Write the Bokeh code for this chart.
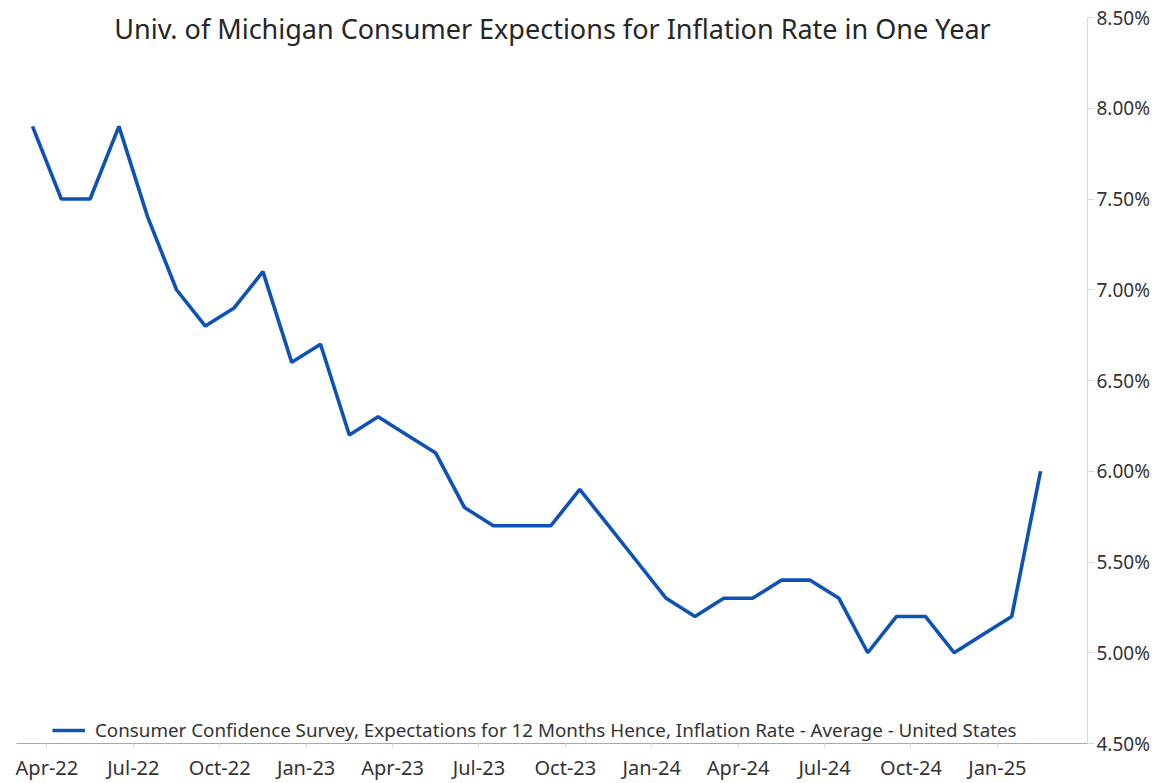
from bokeh.plotting import figure
from bokeh.models import (Range1d, FixedTicker, Label, Legend, LegendItem,
                          PrintfTickFormatter, ColumnDataSource)
from bokeh.embed import file_html
from bokeh.resources import INLINE

# ---- data ----
months = ["Apr-22", "May-22", "Jun-22", "Jul-22", "Aug-22", "Sep-22", "Oct-22", "Nov-22", "Dec-22",
          "Jan-23", "Feb-23", "Mar-23", "Apr-23", "May-23", "Jun-23", "Jul-23", "Aug-23", "Sep-23",
          "Oct-23", "Nov-23", "Dec-23", "Jan-24", "Feb-24", "Mar-24", "Apr-24", "May-24", "Jun-24",
          "Jul-24", "Aug-24", "Sep-24", "Oct-24", "Nov-24", "Dec-24", "Jan-25", "Feb-25", "Mar-25"]
expectations = [7.9, 7.5, 7.5, 7.9, 7.4, 7.0, 6.8, 6.9, 7.1,
                6.6, 6.7, 6.2, 6.3, 6.2, 6.1, 5.8, 5.7, 5.7,
                5.7, 5.9, 5.7, 5.5, 5.3, 5.2, 5.3, 5.3, 5.4,
                5.4, 5.3, 5.0, 5.2, 5.2, 5.0, 5.1, 5.2, 6.0]
tick_labels = months[::3]
y_ticks = [4.5, 5.0, 5.5, 6.0, 6.5, 7.0, 7.5, 8.0, 8.5]
series_name = "Consumer Confidence Survey, Expectations for 12 Months Hence, Inflation Rate - Average - United States"
title_text = "Univ. of Michigan Consumer Expections for Inflation Rate in One Year"

FONT = "Noto Sans"
TXT = "#333333"
BLUE = "#0f52b5"

idx = list(range(len(months)))
src = ColumnDataSource(dict(x=idx, y=expectations))

W, H = 1156, 783
B_LEFT, B_RIGHT, B_TOP, B_BOTTOM = 16, 69, 17, 38
p = figure(width=W, height=H, output_backend="svg", toolbar_location=None,
           x_range=Range1d(-0.556, 36.63), y_range=Range1d(4.5, 8.5),
           y_axis_location="right", min_border_left=B_LEFT, min_border_right=B_RIGHT,
           min_border_top=B_TOP, min_border_bottom=B_BOTTOM)
p.outline_line_color = None
p.grid.grid_line_color = None
p.background_fill_color = "white"
p.border_fill_color = "white"

r = p.line("x", "y", source=src, line_width=3.6, line_color=BLUE)

# x axis: ticks sit half a month after the data points
xa = p.xaxis[0]
xa.ticker = FixedTicker(ticks=[i + 0.5 for i in idx[::3]])
xa.major_label_overrides = {i + 0.5: lab for i, lab in zip(idx[::3], tick_labels)}
xa.axis_line_color = "#a8a8a8"
xa.axis_line_width = 1
xa.major_tick_line_color = "#d9d9d9"
xa.major_tick_out = 4
xa.major_tick_in = 0
xa.minor_tick_line_color = None
xa.major_label_standoff = 6
xa.major_label_text_font = FONT
xa.major_label_text_font_size = "20px"
xa.major_label_text_color = TXT

ya = p.yaxis[0]
ya.ticker = FixedTicker(ticks=y_ticks)
ya.formatter = PrintfTickFormatter(format="%.2f%%")
ya.axis_line_color = "#d9d9d9"
ya.major_tick_line_color = "#d9d9d9"
ya.major_tick_out = 7
ya.major_tick_in = 0
ya.minor_tick_line_color = None
ya.major_label_standoff = 2
ya.major_label_text_font = FONT
ya.major_label_text_font_size = "19px"
ya.major_label_text_color = TXT

legend = Legend(items=[LegendItem(label=series_name, renderers=[r])],
                location=(36, 0), padding=0, margin=0, spacing=0,
                border_line_color=None, background_fill_color="white",
                background_fill_alpha=1.0, glyph_width=33, glyph_height=20,
                label_height=20, label_standoff=10,
                label_text_font=FONT, label_text_font_size="18.8px",
                label_text_color=TXT)
p.add_layout(legend)

frame_h = H - B_TOP - B_BOTTOM
title = Label(x=536, y=frame_h - 13, x_units="screen", y_units="screen",
              text=title_text, text_align="center", text_baseline="alphabetic",
              text_font=FONT, text_font_size="27px", text_color="#262626")
p.add_layout(title)

open("out.html", "w").write(file_html(p, INLINE))
